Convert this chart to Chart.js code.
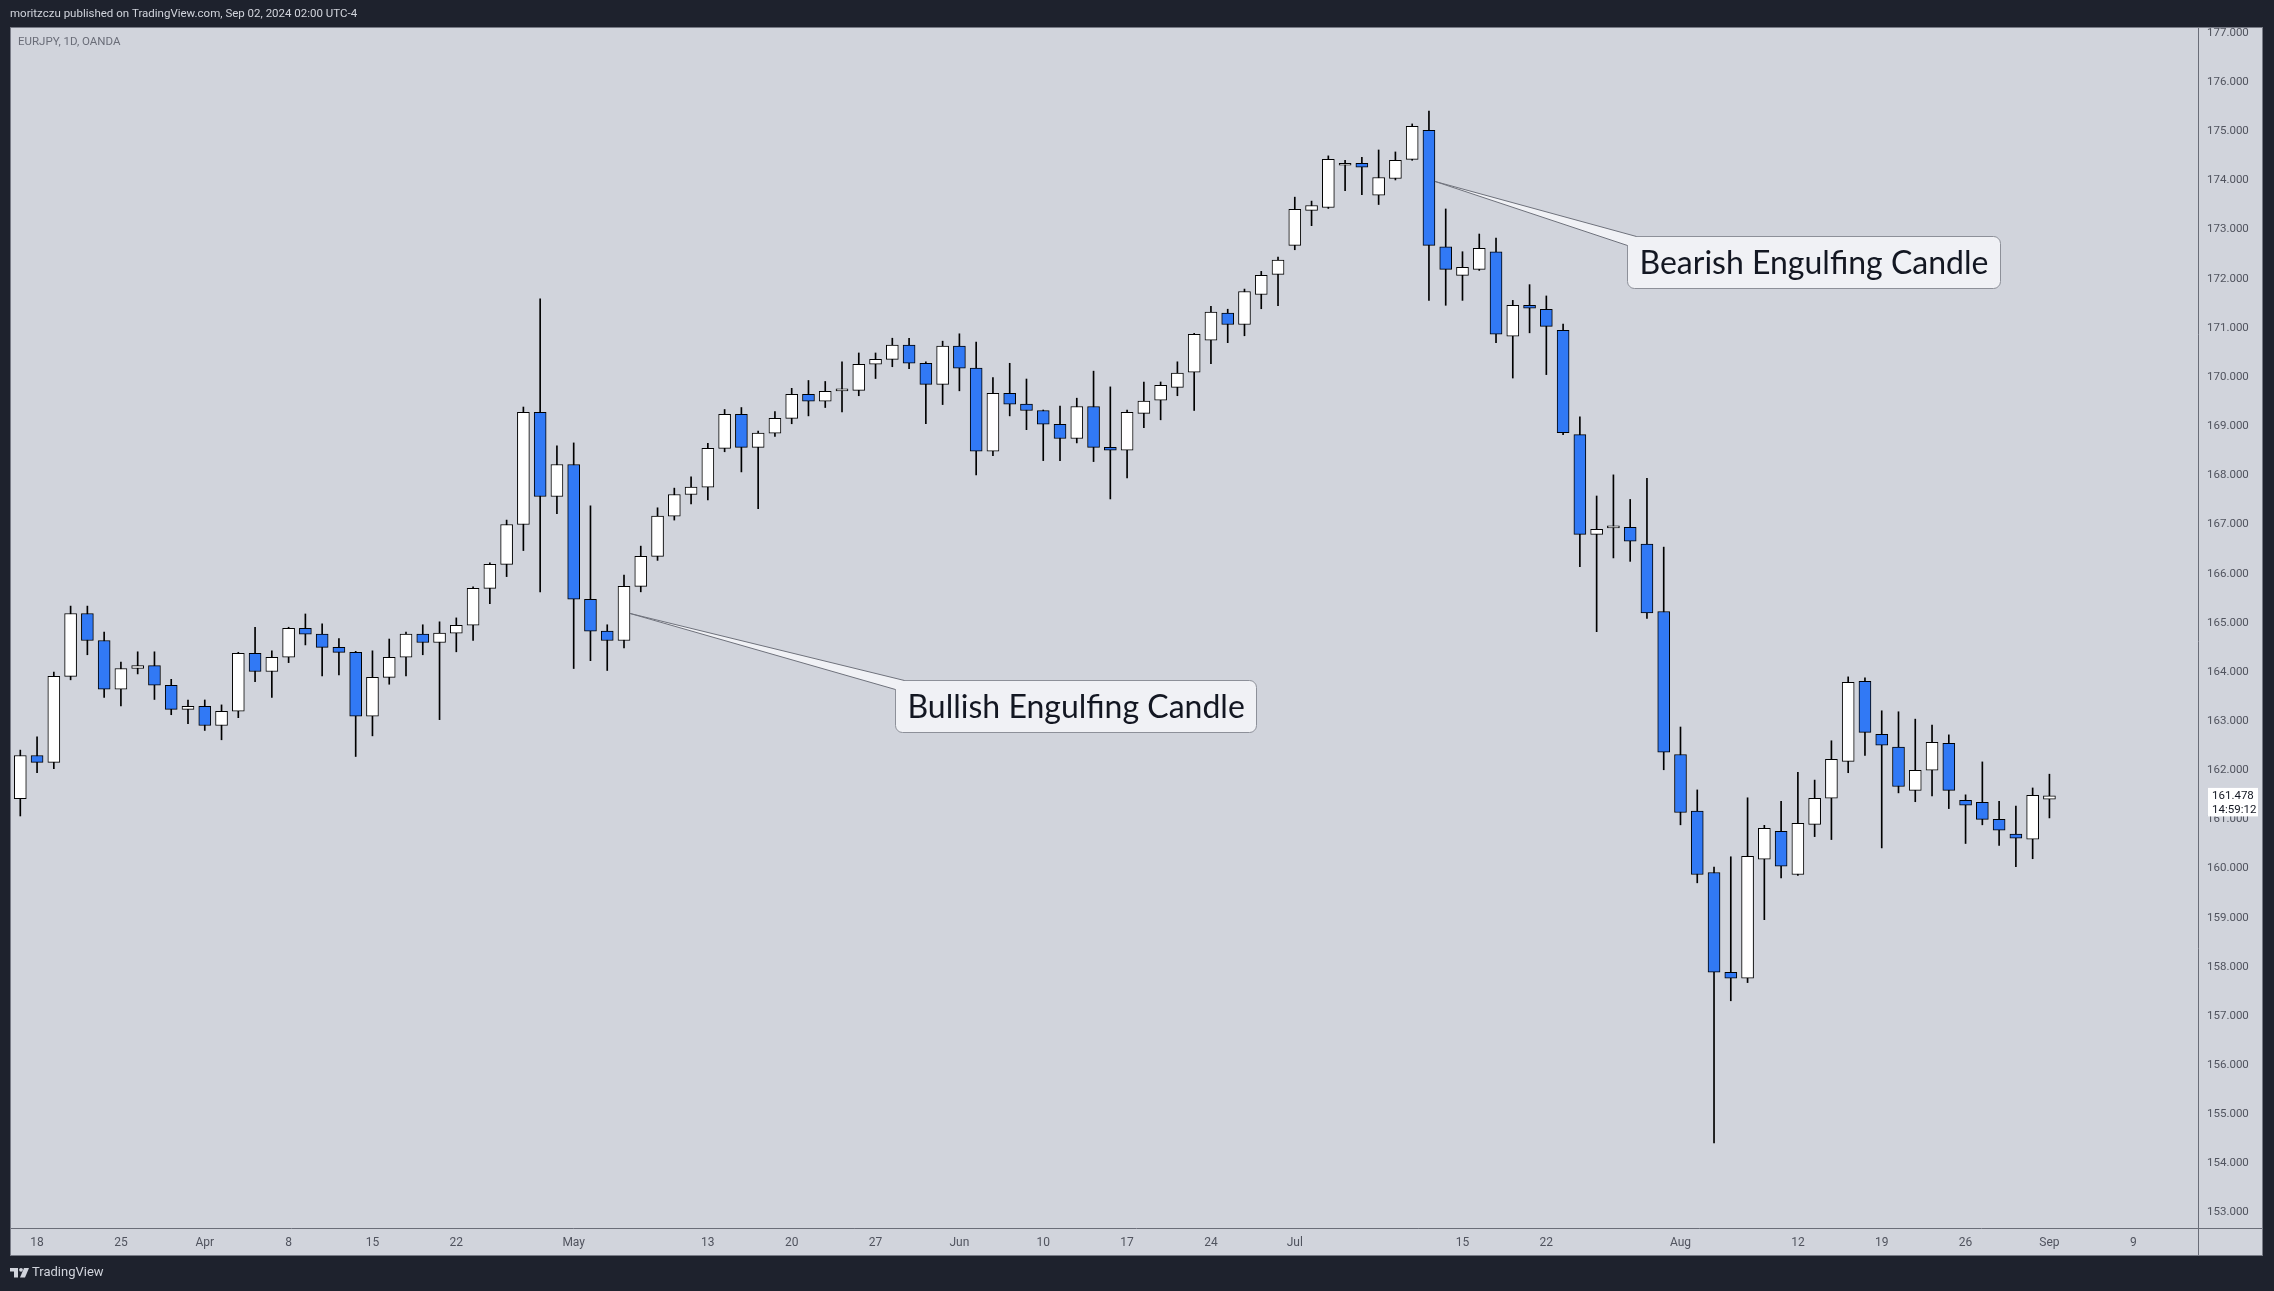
<!DOCTYPE html>
<html>
<head>
<meta charset="utf-8">
<title>EURJPY, 1D, OANDA</title>
<script src="https://cdn.jsdelivr.net/npm/chart.js@4.4.1/dist/chart.umd.min.js"></script>
<style>
  html, body { margin: 0; padding: 0; background: #1e222d; overflow: hidden; }
  canvas { display: block; }
</style>
</head>
<body>
<canvas id="chart" width="2274" height="1291"></canvas>
<script>
// EURJPY daily candles (OANDA), 15 Mar 2024 - 2 Sep 2024
const opens = [
  161.42, 162.30, 162.16, 163.91, 165.19, 164.64, 163.65, 164.07, 164.13, 163.73,
  163.24, 163.30, 162.91, 163.20, 164.38, 164.01, 164.30, 164.89, 164.77, 164.50,
  164.40, 163.10, 163.89, 164.30, 164.77, 164.60, 164.79, 164.95, 165.70, 166.19,
  167.00, 169.28, 167.57, 168.22, 165.48, 164.83, 164.64, 165.74, 166.35, 167.17,
  167.61, 167.76, 168.55, 169.24, 168.57, 168.86, 169.16, 169.65, 169.51, 169.72,
  169.73, 170.26, 170.36, 170.65, 170.28, 169.85, 170.63, 170.18, 168.49, 169.67,
  169.45, 169.32, 169.04, 168.75, 169.40, 168.57, 168.51, 169.26, 169.53, 169.79,
  170.10, 170.75, 171.30, 171.07, 171.68, 172.09, 172.68, 173.39, 173.45, 174.31,
  174.35, 173.70, 174.04, 174.43, 175.02, 172.65, 172.07, 172.19, 172.55, 170.83,
  171.46, 171.38, 170.95, 168.83, 166.80, 166.93, 166.94, 166.60, 165.23, 162.32,
  161.17, 159.92, 157.89, 157.77, 160.19, 160.76, 159.88, 160.90, 161.43, 162.18,
  163.81, 162.73, 162.47, 161.59, 162.00, 162.55, 161.39, 161.35, 161.00, 160.70,
  160.60, 161.41
];
const highs = [
  162.41, 162.68, 164.00, 165.34, 165.34, 164.81, 164.20, 164.41, 164.41, 163.85,
  163.43, 163.43, 163.33, 164.40, 164.91, 164.43, 164.91, 165.18, 164.98, 164.68,
  164.42, 164.43, 164.67, 164.81, 164.96, 165.02, 165.10, 165.73, 166.22, 167.09,
  169.39, 171.59, 168.60, 168.66, 167.38, 164.96, 165.97, 166.56, 167.34, 167.74,
  167.97, 168.65, 169.34, 169.38, 168.90, 169.30, 169.77, 169.93, 169.91, 170.31,
  170.49, 170.49, 170.79, 170.79, 170.31, 170.73, 170.88, 170.71, 169.99, 170.28,
  169.96, 169.33, 169.41, 169.57, 170.12, 169.80, 169.33, 169.90, 169.90, 170.31,
  170.89, 171.44, 171.38, 171.79, 172.15, 172.44, 173.66, 173.58, 174.50, 174.41,
  174.47, 174.62, 174.58, 175.15, 175.41, 173.42, 172.55, 172.91, 172.83, 171.56,
  171.88, 171.65, 171.08, 169.19, 167.58, 168.01, 167.51, 167.94, 166.54, 162.88,
  161.60, 160.03, 160.24, 161.44, 160.88, 161.37, 161.96, 161.80, 162.60, 163.90,
  163.88, 163.21, 163.19, 163.04, 162.92, 162.72, 161.50, 162.17, 161.37, 161.27,
  161.64, 161.92
];
const lows = [
  161.07, 161.95, 162.03, 163.84, 164.35, 163.48, 163.31, 163.96, 163.44, 163.13,
  162.95, 162.81, 162.62, 163.07, 163.80, 163.48, 164.19, 164.55, 163.92, 163.94,
  162.28, 162.70, 163.75, 163.92, 164.35, 163.03, 164.41, 164.64, 165.39, 165.94,
  166.47, 165.63, 167.22, 164.07, 164.23, 164.03, 164.49, 165.63, 166.27, 167.09,
  167.42, 167.50, 168.48, 168.07, 167.32, 168.79, 169.05, 169.21, 169.38, 169.29,
  169.62, 169.97, 170.21, 170.17, 169.05, 169.44, 169.72, 168.01, 168.40, 169.21,
  168.93, 168.30, 168.30, 168.66, 168.28, 167.52, 167.95, 168.97, 169.13, 169.62,
  169.32, 170.27, 170.70, 170.84, 171.39, 171.45, 172.59, 173.08, 173.43, 173.79,
  173.71, 173.51, 174.01, 174.41, 171.56, 171.46, 171.56, 172.17, 170.70, 169.98,
  170.90, 170.05, 168.83, 166.14, 164.82, 166.32, 166.25, 165.09, 162.01, 160.89,
  159.71, 154.42, 157.31, 157.68, 158.96, 159.81, 159.86, 160.65, 160.59, 161.95,
  162.30, 160.42, 161.54, 161.36, 161.48, 161.22, 160.51, 160.89, 160.47, 160.04,
  160.20, 161.03
];
const closes = [
  162.30, 162.16, 163.91, 165.19, 164.64, 163.65, 164.07, 164.13, 163.73, 163.24,
  163.30, 162.91, 163.20, 164.38, 164.01, 164.30, 164.89, 164.77, 164.50, 164.40,
  163.10, 163.89, 164.30, 164.77, 164.60, 164.79, 164.95, 165.70, 166.19, 167.00,
  169.28, 167.57, 168.22, 165.48, 164.83, 164.64, 165.74, 166.35, 167.17, 167.61,
  167.76, 168.55, 169.24, 168.57, 168.86, 169.16, 169.65, 169.51, 169.71, 169.73,
  170.26, 170.36, 170.65, 170.28, 169.85, 170.63, 170.18, 168.49, 169.67, 169.45,
  169.32, 169.04, 168.75, 169.40, 168.57, 168.51, 169.28, 169.51, 169.83, 170.08,
  170.87, 171.32, 171.07, 171.74, 172.07, 172.38, 173.41, 173.49, 174.43, 174.35,
  174.27, 174.06, 174.41, 175.10, 172.68, 172.19, 172.23, 172.62, 170.87, 171.46,
  171.40, 171.03, 168.87, 166.80, 166.90, 166.95, 166.66, 165.20, 162.37, 161.14,
  159.88, 157.89, 157.77, 160.25, 160.82, 160.05, 160.92, 161.43, 162.22, 163.79,
  162.77, 162.51, 161.67, 162.00, 162.57, 161.59, 161.29, 161.00, 160.78, 160.62,
  161.49, 161.478
];

// time axis labels
const tickDates = [
  '2024-03-18', '2024-03-25', '2024-04-01', '2024-04-08', '2024-04-15', '2024-04-22',
  '2024-05-01', '2024-05-13', '2024-05-20', '2024-05-27', '2024-06-03', '2024-06-10',
  '2024-06-17', '2024-06-24', '2024-07-01', '2024-07-15', '2024-07-22', '2024-08-01',
  '2024-08-12', '2024-08-19', '2024-08-26', '2024-09-02', '2024-09-09'
];
const tickText = [
  '18', '25', 'Apr', '8', '15', '22', 'May', '13', '20', '27', 'Jun', '10',
  '17', '24', 'Jul', '15', '22', 'Aug', '12', '19', '26', 'Sep', '9'
];
const priceTicks = [153, 154, 155, 156, 157, 158, 159, 160, 161, 162, 163, 164, 165,
  166, 167, 168, 169, 170, 171, 172, 173, 174, 175, 176, 177];

// callouts: anchor candle + price, box placed some bars to the right
const notes = [
  { text: 'Bullish Engulfing Candle', day: '2024-05-06', price: 165.19, shift: 15.78, boxPrice: 163.84 },
  { text: 'Bearish Engulfing Candle', day: '2024-07-11', price: 173.98, shift: 11.45, boxPrice: 172.87 }
];

// trading days (Mon-Fri), candles first, then the empty days to the right
const days = [];
for (let d = new Date(Date.UTC(2024, 2, 15)); d <= new Date(Date.UTC(2024, 8, 12)); d.setUTCDate(d.getUTCDate() + 1)) {
  const wd = d.getUTCDay();
  if (wd !== 0 && wd !== 6) days.push(d.toISOString().slice(0, 10));
}

const tickIdx = tickDates.map(d => days.indexOf(d));
const tickName = {};
tickIdx.forEach((v, k) => { tickName[v] = tickText[k]; });

const UP = '#ffffff';
const DOWN = '#3179f5';
const BODY_W = 12;

const wickData = [];
const bodyData = [];
const bodyFill = [];
for (let i = 0; i < closes.length; i++) {
  wickData.push({ x: i, y: [lows[i], highs[i]] });
  bodyData.push({ x: i, y: [opens[i], closes[i]] });
  bodyFill.push(closes[i] >= opens[i] ? UP : DOWN);
}

const frame = {
  id: 'frame',
  beforeDraw(chart) {
    const ctx = chart.ctx;
    ctx.save();
    ctx.fillStyle = '#1e222d';
    ctx.fillRect(0, 0, chart.width, chart.height);
    ctx.fillStyle = '#d1d4dc';
    ctx.fillRect(10, 27, 2253, 1229);

    ctx.textBaseline = 'middle';
    ctx.fillStyle = '#d1d4dc';
    ctx.font = '11.5px Roboto';
    ctx.fillText('moritzczu published on TradingView.com, Sep 02, 2024 02:00 UTC-4', 10, 14);

    ctx.fillStyle = '#6a6d78';
    ctx.font = '11.5px Roboto';
    ctx.fillText('EURJPY, 1D, OANDA', 18, 42);

    // footer logo
    ctx.fillStyle = '#d1d4dc';
    ctx.fillRect(10, 1268, 8, 3.5);
    ctx.fillRect(14, 1268, 4, 9.5);
    ctx.beginPath();
    ctx.arc(21, 1269.8, 1.9, 0, Math.PI * 2);
    ctx.fill();
    ctx.beginPath();
    ctx.moveTo(24, 1268);
    ctx.lineTo(29, 1268);
    ctx.lineTo(25, 1277.5);
    ctx.lineTo(20, 1277.5);
    ctx.closePath();
    ctx.fill();
    ctx.font = '13px Roboto';
    ctx.fillText('TradingView', 32, 1273);
    ctx.restore();
  },
  afterDraw(chart) {
    const ctx = chart.ctx;
    const xs = chart.scales.x;
    const ys = chart.scales.y;
    const area = chart.chartArea;
    ctx.save();

    // panel borders and axis separators
    ctx.strokeStyle = '#6a6d78';
    ctx.lineWidth = 1;
    ctx.beginPath();
    ctx.moveTo(Math.round(area.right) + 0.5, 27);
    ctx.lineTo(Math.round(area.right) + 0.5, 1256);
    ctx.moveTo(10, Math.round(area.bottom) + 0.5);
    ctx.lineTo(2263, Math.round(area.bottom) + 0.5);
    ctx.stroke();
    ctx.strokeStyle = '#787b86';
    ctx.strokeRect(10.5, 27.5, 2252, 1228);

    // last price label
    const last = closes.length - 1;
    const py = ys.getPixelForValue(closes[last]);
    const bx = area.right + 10;
    ctx.fillStyle = '#ffffff';
    ctx.fillRect(bx, py - 8, 50, 28.5);
    ctx.fillStyle = '#131722';
    ctx.font = '11.5px Roboto';
    ctx.textBaseline = 'middle';
    ctx.fillText(closes[last].toFixed(3), bx + 4, py);
    ctx.fillText('14:59:12', bx + 4, py + 14.5);

    // callouts
    ctx.font = '32px Lato';
    notes.forEach(n => {
      const i = days.indexOf(n.day);
      const ax = xs.getPixelForValue(i) + BODY_W / 2;
      const ay = ys.getPixelForValue(n.price);
      const left = Math.round(xs.getPixelForValue(i) + BODY_W / 2 + n.shift * (xs.getPixelForValue(1) - xs.getPixelForValue(0))) + 0.5;
      const top = Math.round(ys.getPixelForValue(n.boxPrice)) + 0.5;
      const w = Math.round(ctx.measureText(n.text).width + 24);
      const h = 52;
      ctx.beginPath();
      ctx.roundRect(left, top, w, h, 7);
      ctx.fillStyle = '#f0f1f5';
      ctx.fill();
      ctx.strokeStyle = '#8d9099';
      ctx.stroke();
      ctx.beginPath();
      ctx.moveTo(left + 9, top);
      ctx.lineTo(ax, ay);
      ctx.lineTo(left, top + 9);
      ctx.closePath();
      ctx.fill();
      ctx.beginPath();
      ctx.moveTo(left + 9, top);
      ctx.lineTo(ax, ay);
      ctx.lineTo(left, top + 9);
      ctx.strokeStyle = '#6f727c';
      ctx.stroke();
      ctx.fillStyle = '#131722';
      ctx.textBaseline = 'middle';
      ctx.fillText(n.text, left + 12, top + h / 2 + 1);
    });
    ctx.restore();
  }
};

new Chart(document.getElementById('chart'), {
  type: 'bar',
  data: {
    datasets: [
      {
        label: 'wick',
        data: wickData,
        backgroundColor: '#000000',
        barThickness: 1,
        grouped: false,
        order: 2
      },
      {
        label: 'body',
        data: bodyData,
        backgroundColor: bodyFill,
        borderColor: '#000000',
        borderWidth: 1,
        borderSkipped: false,
        barThickness: BODY_W,
        minBarLength: 2,
        grouped: false,
        order: 1
      }
    ]
  },
  options: {
    responsive: false,
    animation: false,
    layout: { padding: { left: 10, top: 27, right: 11, bottom: 35 } },
    plugins: {
      legend: { display: false },
      tooltip: { enabled: false }
    },
    scales: {
      x: {
        type: 'linear',
        min: -0.614,
        max: 129.86,
        offset: false,
        grid: { display: false, drawTicks: false, offset: false },
        border: { display: false },
        afterBuildTicks: s => { s.ticks = tickIdx.map(v => ({ value: v })); },
        afterFit: s => { s.height = 28; },
        ticks: {
          autoSkip: false,
          maxRotation: 0,
          padding: 8,
          color: '#50535e',
          font: { family: 'Roboto', size: 12 },
          callback: v => tickName[v] || ''
        }
      },
      y: {
        position: 'right',
        min: 152.687,
        max: 177.122,
        grid: { display: false, drawTicks: false },
        border: { display: false },
        afterBuildTicks: s => { s.ticks = priceTicks.map(v => ({ value: v })); },
        afterFit: s => { s.width = 65; },
        ticks: {
          padding: 9,
          color: '#50535e',
          font: { family: 'Roboto', size: 11.5 },
          callback: v => v.toFixed(3)
        }
      }
    }
  },
  plugins: [frame]
});
</script>
</body>
</html>
